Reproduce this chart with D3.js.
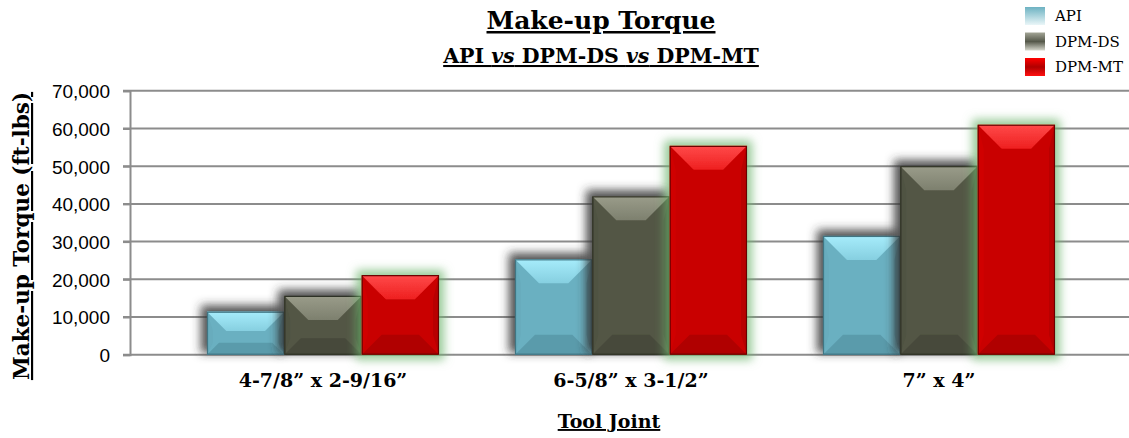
<!DOCTYPE html>
<meta charset="utf-8">
<script src="https://d3js.org/d3.v7.min.js"></script>
<style>
  body { margin: 0; background: #fff; }
  .serif { font-family: "DejaVu Serif", serif; font-weight: bold; fill: #000; }
  .tick { font-family: "Liberation Sans", Arial, sans-serif; font-size: 19px; fill: #000; }
</style>
<div id="chart_area"></div>
<script>

    // values
    let categories = ["4-7/8\u201d x 2-9/16\u201d", "6-5/8\u201d x 3-1/2\u201d", "7\u201d x 4\u201d"];
    let series = ["API", "DPM-DS", "DPM-MT"];
    let apiValues = [11400, 25300, 31500];
    let dsValues = [15600, 42000, 50000];
    let mtValues = [21100, 55400, 61000];
    let yTicks = [0, 10000, 20000, 30000, 40000, 50000, 60000, 70000];

    let width = 1129;
    let height = 438;

    let svg = d3.select("#chart_area")
                .append("svg")
                    .attr("width", width)
                    .attr("height", height);

    // bar styles: body, top facet, bottom facet, left, right, edge
    let styles = {
        "API":    {body: "#6ab0c1", top: ["#a6ecfb", "#86cfe0"], bottom: "#5a9bab", left: "#67acbd", right: "#5e9fb0", edge: "#3f7482", legend: ["#6db2c2", "#eaf6f8"]},
        "DPM-DS": {body: "#535645", top: ["#9a9c8a", "#7d806e"], bottom: "#474a3a", left: "#505342", right: "#4a4d3d", edge: "#2e3024", legend: ["#a3a596", "#55584a", "#d6d7cc"]},
        "DPM-MT": {body: "#c90000", top: ["#ff4a4a", "#ee2020"], bottom: "#b00404", left: "#d00606", right: "#b80000", edge: "#6a0000", legend: ["#ff0000", "#b00000", "#ff1010"]}
    };

    let defs = svg.append("defs");

    let grey = defs.append("filter").attr("id", "shadowGrey")
        .attr("x", "-50%").attr("y", "-50%").attr("width", "200%").attr("height", "200%");
    grey.append("feMorphology").attr("in", "SourceAlpha").attr("operator", "dilate").attr("radius", 2).attr("result", "d");
    grey.append("feGaussianBlur").attr("in", "d").attr("stdDeviation", 5).attr("result", "b");
    grey.append("feOffset").attr("in", "b").attr("dx", -4).attr("dy", -4).attr("result", "o");
    grey.append("feFlood").attr("flood-color", "#333").attr("flood-opacity", 0.85).attr("result", "f");
    grey.append("feComposite").attr("in", "f").attr("in2", "o").attr("operator", "in").attr("result", "s");
    let gm = grey.append("feMerge");
    gm.append("feMergeNode").attr("in", "s");
    gm.append("feMergeNode").attr("in", "SourceGraphic");

    let green = defs.append("filter").attr("id", "glowGreen")
        .attr("x", "-50%").attr("y", "-50%").attr("width", "200%").attr("height", "200%");
    green.append("feMorphology").attr("in", "SourceAlpha").attr("operator", "dilate").attr("radius", 5).attr("result", "d");
    green.append("feGaussianBlur").attr("in", "d").attr("stdDeviation", 5).attr("result", "b");
    green.append("feFlood").attr("flood-color", "#6cb46c").attr("flood-opacity", 0.7).attr("result", "f");
    green.append("feComposite").attr("in", "f").attr("in2", "b").attr("operator", "in").attr("result", "s");
    let gg = green.append("feMerge");
    gg.append("feMergeNode").attr("in", "s");
    gg.append("feMergeNode").attr("in", "SourceGraphic");

    // legend and facet gradients
    series.forEach((s, i) => {
        let g = defs.append("linearGradient").attr("id", "leg" + i)
            .attr("x1", 0).attr("y1", 0).attr("x2", 0).attr("y2", 1);
        let cols = styles[s].legend;
        cols.forEach((c, j) => g.append("stop").attr("offset", j / (cols.length - 1)).attr("stop-color", c));

        let t = defs.append("linearGradient").attr("id", "top" + i)
            .attr("x1", 0).attr("y1", 0).attr("x2", 0).attr("y2", 1);
        t.append("stop").attr("offset", 0).attr("stop-color", styles[s].top[0]);
        t.append("stop").attr("offset", 1).attr("stop-color", styles[s].top[1]);
    });

    // scales
    let x0 = d3.scaleBand().domain(categories).range([169, 1093]);
    let x1 = d3.scaleBand().domain(series).range([38, 270]);
    let y = d3.scaleLinear().domain([0, 70000]).range([354.7, 90.8]);

    // grid lines
    svg.append("g")
        .selectAll("line")
        .data(yTicks)
        .enter()
        .append("line")
            .attr("x1", 123).attr("x2", width)
            .attr("y1", d => y(d)).attr("y2", d => y(d))
            .attr("stroke", "#8c8c8c")
            .attr("stroke-width", 2);

    // y axis
    let yAxis = svg.append("g")
        .attr("transform", "translate(130,0)")
        .call(d3.axisLeft(y).tickValues(yTicks).tickSize(7).tickPadding(13).tickFormat(d3.format(",")));
    yAxis.select(".domain").attr("stroke", "#8c8c8c").attr("stroke-width", 2);
    yAxis.selectAll(".tick line").attr("stroke", "#8c8c8c").attr("stroke-width", 2);
    yAxis.selectAll("text").attr("class", "tick").attr("font-size", null).attr("font-family", null).attr("dy", "0.36em");

    // bars
    let values = {"API": apiValues, "DPM-DS": dsValues, "DPM-MT": mtValues};
    let barData = [];
    categories.forEach((c, i) => series.forEach((s, j) => barData.push({cat: c, key: s, idx: j, value: values[s][i]})));

    let bars = svg.append("g")
        .selectAll("g")
        .data(barData)
        .enter()
        .append("g")
            .attr("filter", d => d.key === "DPM-MT" ? "url(#glowGreen)" : "url(#shadowGrey)");

    bars.each(function(d) {
        let g = d3.select(this);
        let st = styles[d.key];
        let bx = x0(d.cat) + x1(d.key);
        let bw = x1.bandwidth();
        let by = y(d.value);
        let bh = y(0) - by;
        let bt = Math.min(24, bh * 0.45);
        let bb = Math.min(20, bh * 0.28);
        let bs = 6;
        let x2 = bx + bw, y2 = by + bh;

        g.append("rect").attr("x", bx).attr("y", by).attr("width", bw).attr("height", bh).attr("fill", st.body);
        // side facets
        g.append("path").attr("d", `M${bx},${by}L${bx + bs},${by + bt}L${bx + bs},${y2 - bb}L${bx},${y2}Z`).attr("fill", st.left);
        g.append("path").attr("d", `M${x2},${by}L${x2 - bs},${by + bt}L${x2 - bs},${y2 - bb}L${x2},${y2}Z`).attr("fill", st.right);
        // top facet
        g.append("path").attr("d", `M${bx},${by}L${x2},${by}L${x2 - bt},${by + bt}L${bx + bt},${by + bt}Z`).attr("fill", "url(#top" + d.idx + ")");
        // bottom facet
        g.append("path").attr("d", `M${bx},${y2}L${x2},${y2}L${x2 - bb},${y2 - bb}L${bx + bb},${y2 - bb}Z`).attr("fill", st.bottom);
        // outline
        g.append("rect").attr("x", bx + 0.5).attr("y", by + 0.5).attr("width", bw - 1).attr("height", bh - 1)
            .attr("fill", "none").attr("stroke", st.edge).attr("stroke-width", 1.2);
    });

    // category labels
    svg.append("g")
        .selectAll("text")
        .data(categories)
        .enter()
        .append("text")
            .attr("class", "serif")
            .attr("x", d => x0(d) + x0.bandwidth() / 2)
            .attr("y", 387)
            .attr("text-anchor", "middle")
            .style("font-size", "19px")
            .text(d => d);

    // titles
    svg.append("text").attr("class", "serif")
        .attr("x", 601).attr("y", 29).attr("text-anchor", "middle")
        .style("font-size", "25px").style("text-decoration", "underline")
        .text("Make-up Torque");

    let sub = svg.append("text").attr("class", "serif")
        .attr("x", 601).attr("y", 63).attr("text-anchor", "middle")
        .style("font-size", "20.5px").style("text-decoration", "underline");
    sub.append("tspan").text("API ");
    sub.append("tspan").style("font-style", "italic").text("vs");
    sub.append("tspan").text(" DPM-DS ");
    sub.append("tspan").style("font-style", "italic").text("vs");
    sub.append("tspan").text(" DPM-MT");

    svg.append("text").attr("class", "serif")
        .attr("x", 609).attr("y", 428).attr("text-anchor", "middle")
        .style("font-size", "19px").style("text-decoration", "underline")
        .text("Tool Joint");

    svg.append("text").attr("class", "serif")
        .attr("transform", "translate(29,236) rotate(-90)")
        .attr("text-anchor", "middle")
        .style("font-size", "21.5px").style("text-decoration", "underline")
        .text("Make-up Torque (ft-lbs)");

    // legend
    let legend = svg.append("g")
        .selectAll("g")
        .data(series)
        .enter()
        .append("g")
            .attr("transform", (d, i) => "translate(1025," + (7 + i * 25.5) + ")");
    legend.append("rect")
        .attr("width", 20).attr("height", 18)
        .attr("fill", (d, i) => "url(#leg" + i + ")");
    legend.append("text")
        .attr("x", 30).attr("y", 14)
        .style("font-family", "\"DejaVu Serif\", serif")
        .style("font-size", "15px")
        .text(d => d);

</script>
